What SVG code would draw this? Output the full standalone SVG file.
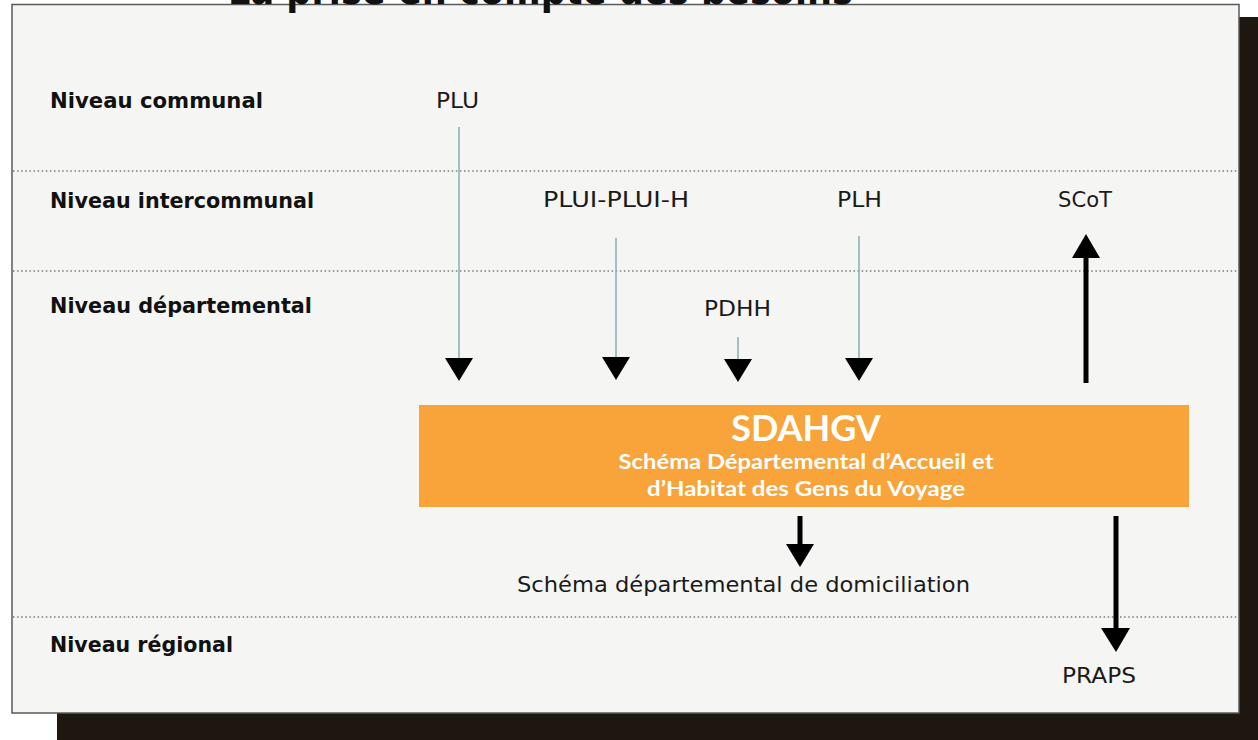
<svg xmlns="http://www.w3.org/2000/svg" width="1258" height="740" viewBox="0 0 1258 740">
  <style>
    .level { font-family: "DejaVu Sans", "Liberation Sans", sans-serif; font-weight: bold; font-size: 22px; fill: #111; }
    .doc { font-family: "DejaVu Sans", "Liberation Sans", sans-serif; font-size: 21px; fill: #1a1a1a; }
    .divider { stroke: #7a7a7a; stroke-width: 1.3; stroke-dasharray: 1.5 2.6; }
    .feed { stroke: #8db3b3; stroke-width: 1.6; }
    .bold-shaft { stroke: #000; stroke-width: 5; }
    .head { fill: #000; }
    .box-title { font-family: "Lato", "Liberation Sans", sans-serif; font-weight: bold; fill: #fff; text-anchor: middle; }
  </style>

  <!-- page background and drop shadow -->
  <rect x="0" y="0" width="1258" height="740" fill="#ffffff"/>
  <rect x="57" y="17" width="1201" height="723" fill="#1d1710"/>

  <!-- main panel -->
  <rect x="12" y="4.5" width="1227" height="708.5" fill="#f5f5f3" stroke="#5a5a5a" stroke-width="1.5"/>

  <!-- title, mostly above the top edge -->
  <text x="228" y="4" font-family="DejaVu Sans, Liberation Sans, sans-serif" font-weight="bold" font-size="40" fill="#111" textLength="625" lengthAdjust="spacingAndGlyphs">La prise en compte des besoins</text>

  <!-- level dividers -->
  <g id="dividers">
    <line class="divider" x1="13" y1="171" x2="1238" y2="171"/>
    <line class="divider" x1="13" y1="271" x2="1238" y2="271"/>
    <line class="divider" x1="13" y1="617" x2="1238" y2="617"/>
  </g>

  <!-- level labels -->
  <g id="levels">
    <text class="level" x="50" y="108" textLength="213" lengthAdjust="spacingAndGlyphs">Niveau communal</text>
    <text class="level" x="50" y="208" textLength="264" lengthAdjust="spacingAndGlyphs">Niveau intercommunal</text>
    <text class="level" x="50" y="313" textLength="262" lengthAdjust="spacingAndGlyphs">Niveau départemental</text>
    <text class="level" x="50" y="652" textLength="183" lengthAdjust="spacingAndGlyphs">Niveau régional</text>
  </g>

  <!-- planning documents -->
  <g id="node-plu"><text class="doc" x="436" y="108" textLength="43" lengthAdjust="spacingAndGlyphs">PLU</text></g>
  <g id="node-plui"><text class="doc" x="543" y="207" textLength="146" lengthAdjust="spacingAndGlyphs">PLUI-PLUI-H</text></g>
  <g id="node-plh"><text class="doc" x="837" y="207" textLength="45" lengthAdjust="spacingAndGlyphs">PLH</text></g>
  <g id="node-scot"><text class="doc" x="1058" y="207" textLength="54" lengthAdjust="spacingAndGlyphs">SCoT</text></g>
  <g id="node-pdhh"><text class="doc" x="704" y="316" textLength="67" lengthAdjust="spacingAndGlyphs">PDHH</text></g>
  <g id="node-domiciliation"><text class="doc" x="517" y="592" textLength="453" lengthAdjust="spacingAndGlyphs">Schéma départemental de domiciliation</text></g>
  <g id="node-praps"><text class="doc" x="1062" y="683" textLength="74" lengthAdjust="spacingAndGlyphs">PRAPS</text></g>

  <!-- central scheme -->
  <g id="node-sdahgv">
    <rect x="419" y="405" width="770" height="102" fill="#f8a43a"/>
    <text class="box-title" x="806" y="441" font-size="36">SDAHGV</text>
    <text class="box-title" x="806" y="469" font-size="20" textLength="375" lengthAdjust="spacingAndGlyphs">Schéma Départemental d’Accueil et</text>
    <text class="box-title" x="806" y="496" font-size="20" textLength="318" lengthAdjust="spacingAndGlyphs">d’Habitat des Gens du Voyage</text>
  </g>

  <!-- connectors -->
  <g id="connectors">
    <!-- inputs into the scheme -->
    <line class="feed" x1="459" y1="127" x2="459" y2="362"/>
    <polygon class="head" points="445,358 473,358 459,381"/>
    <line class="feed" x1="616" y1="238" x2="616" y2="360"/>
    <polygon class="head" points="602,357 630,357 616,380"/>
    <line class="feed" x1="738" y1="337" x2="738" y2="362"/>
    <polygon class="head" points="724,359 752,359 738,382"/>
    <line class="feed" x1="859" y1="236" x2="859" y2="361"/>
    <polygon class="head" points="845,358 873,358 859,381"/>

    <!-- scheme to SCoT -->
    <line class="bold-shaft" x1="1086" y1="383" x2="1086" y2="254"/>
    <polygon class="head" points="1072,258 1100,258 1086,234"/>

    <!-- scheme to domiciliation -->
    <line class="bold-shaft" x1="800" y1="516" x2="800" y2="547"/>
    <polygon class="head" points="786,544 814,544 800,567"/>

    <!-- scheme to PRAPS -->
    <line class="bold-shaft" x1="1116" y1="516" x2="1116" y2="632"/>
    <polygon class="head" points="1101,628 1130,628 1116,652"/>
  </g>
</svg>
